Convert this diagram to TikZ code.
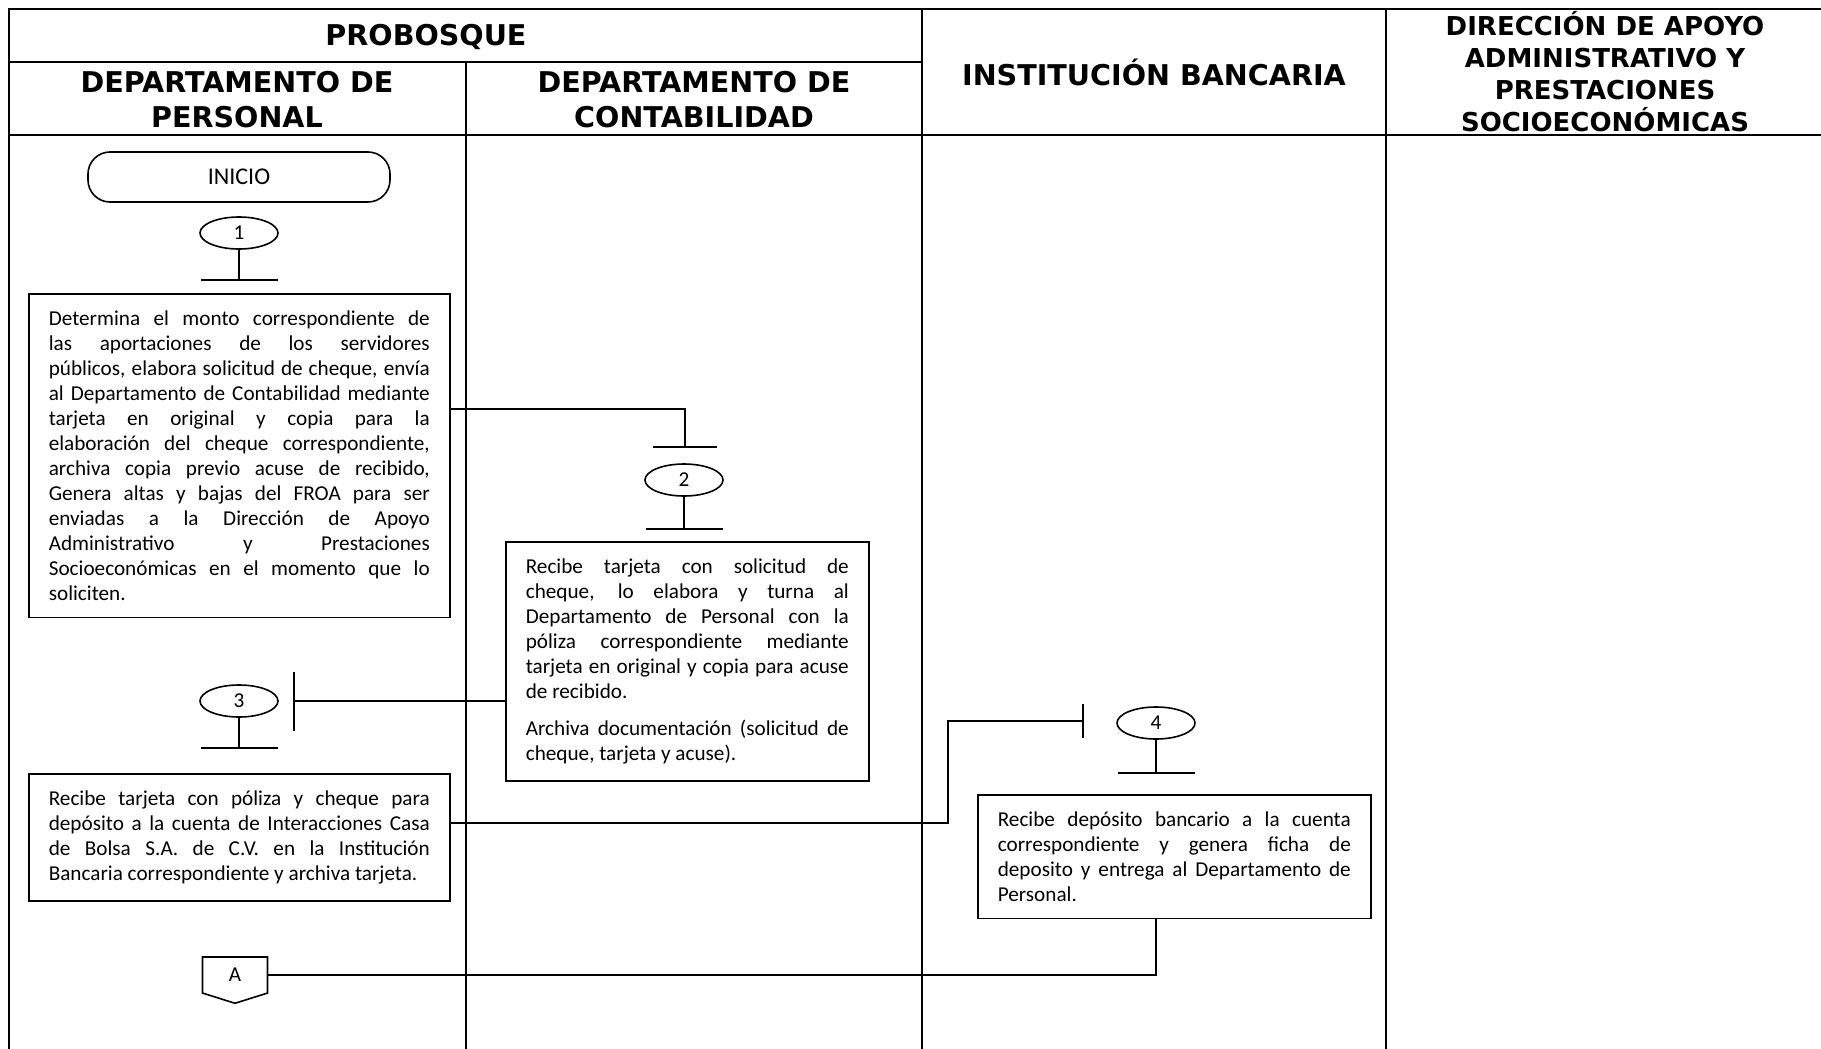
\documentclass[tikz,border=0pt]{standalone}
\usepackage{fontspec}
\setmainfont{Carlito}
\newfontfamily\headfont{DejaVu Sans}
\usetikzlibrary{shapes.geometric,shapes.symbols,arrows.meta,positioning}

\newcommand{\cuerpo}{\fontsize{10.6pt}{12.5pt}\selectfont\tolerance=10000\hyphenpenalty=10000\exhyphenpenalty=10000}
\newcommand{\cabeza}{\headfont\bfseries\fontsize{14.3pt}{17.5pt}\selectfont}
\newcommand{\cabezados}{\headfont\bfseries\fontsize{13pt}{16pt}\selectfont}

\begin{document}
\begin{tikzpicture}
  [x=0.5pt, y=-0.5pt,
   marco/.style={line width=1.2pt},
   titulo/.style={font=\cabeza, align=center, inner sep=0pt},
   caja/.style={draw, line width=0.8pt, align=justify, anchor=north west,
                inner xsep=10pt, inner ysep=8.5pt, font=\cuerpo},
   terminal/.style={rectangle, rounded corners=11pt, draw, line width=0.8pt,
                    minimum width=151pt, minimum height=25pt,
                    font=\fontsize{12pt}{14pt}\selectfont},
   conector/.style={ellipse, draw, line width=0.8pt, inner sep=0pt,
                    minimum width=39pt, minimum height=16pt, font=\cuerpo},
   fuera/.style={signal, signal to=south, signal pointer angle=145, draw,
                 line width=0.8pt, inner sep=0pt, minimum width=32.5pt,
                 minimum height=19pt, font=\cuerpo},
   enlace/.style={line width=0.8pt},
   tope/.style={enlace, -{Bar[width=#1, line width=0.8pt]}},
   tope/.default=38.5pt]

  \useasboundingbox (0,0) rectangle (1821,1049);

  % Marco y columnas
  \draw[marco] (9,1049) -- (9,9) -- (1821,9);
  \draw[marco] (9,62) -- (922,62);
  \draw[marco] (9,135) -- (1821,135);
  \foreach \x/\y in {466/62, 922/9, 1386/9}
    \draw[marco] (\x,\y) -- (\x,1049);

  % Encabezados
  \node[titulo] (hprob) at (426,37) {PROBOSQUE};
  \node[titulo] (hpers) at (237,100) {DEPARTAMENTO DE\\PERSONAL};
  \node[titulo] (hcont) at (694,100) {DEPARTAMENTO DE\\CONTABILIDAD};
  \node[titulo] (hbanc) at (1154,72) {INSTITUCIÓN BANCARIA};
  \node[titulo, font=\cabezados] (hdir) at (1605,72)
    {DIRECCIÓN DE APOYO\\ADMINISTRATIVO Y\\PRESTACIONES\\SOCIOECONÓMICAS};

  % Símbolos
  \node[terminal] (inicio) at (239,177) {INICIO};
  \node[conector] (e1) at (239,233) {1};
  \node[conector] (e2) at (684,480) {2};
  \node[conector] (e3) at (239,701) {3};
  \node[conector] (e4) at (1156,723) {4};
  \node[fuera] (A) at (235,975) {A};

  % Actividades
  \node[caja, text width=190.5pt] (b1) at (28,293)
    {Determina el monto correspondiente de\linebreak
     las aportaciones de los servidores\linebreak
     públicos, elabora solicitud de cheque, envía\linebreak
     al Departamento de Contabilidad mediante\linebreak
     tarjeta en original y copia para la\linebreak
     elaboración del cheque correspondiente,\linebreak
     archiva copia previo acuse de recibido,\linebreak
     Genera altas y bajas del FROA para ser\linebreak
     enviadas a la Dirección de Apoyo\linebreak
     Administrativo y Prestaciones\linebreak
     Socioeconómicas en el momento que lo\linebreak
     soliciten.};
  \node[caja, text width=161.5pt] (b2) at (505,541)
    {Recibe tarjeta con solicitud de\linebreak
     cheque, lo elabora y turna al\linebreak
     Departamento de Personal con la\linebreak
     póliza correspondiente mediante\linebreak
     tarjeta en original y copia para acuse\linebreak
     de recibido.\par\vspace{6pt}
     Archiva documentación (solicitud de\linebreak
     cheque, tarjeta y acuse).};
  \node[caja, text width=190.5pt] (b3) at (28,773)
    {Recibe tarjeta con póliza y cheque para\linebreak
     depósito a la cuenta de Interacciones Casa\linebreak
     de Bolsa S.A. de C.V. en la Institución\linebreak
     Bancaria correspondiente y archiva tarjeta.};
  \node[caja, text width=176.5pt] (b4) at (977,794)
    {Recibe depósito bancario a la cuenta\linebreak
     correspondiente y genera ficha de\linebreak
     deposito y entrega al Departamento de\linebreak
     Personal.};

  % Puntos de paso
  \coordinate (t1) at (239,281);
  \coordinate (t2b) at (684,530);
  \coordinate (t3b) at (239,749);
  \coordinate (t4b) at (1156,774);
  \coordinate (k1) at (685,409);
  \coordinate (t2) at (685,448);
  \coordinate (t3) at (293,701);
  \coordinate (k3) at (948,823);
  \coordinate (t4) at (1084,721);

  % Conexiones
  \foreach \de/\a in {e1/t1, e2/t2b, e3/t3b, e4/t4b}
    \draw[tope] (\de) -- (\a);
  \draw[tope=32pt] (b1.east |- k1) -- (k1) -- (t2);
  \draw[tope=29.5pt] (b2.west |- t3) -- (t3);
  \draw[tope=17pt] (b3.east |- k3) -- (k3) |- (t4);
  \draw[enlace] (e4 |- b4.south) |- (A.east);
\end{tikzpicture}
\end{document}
